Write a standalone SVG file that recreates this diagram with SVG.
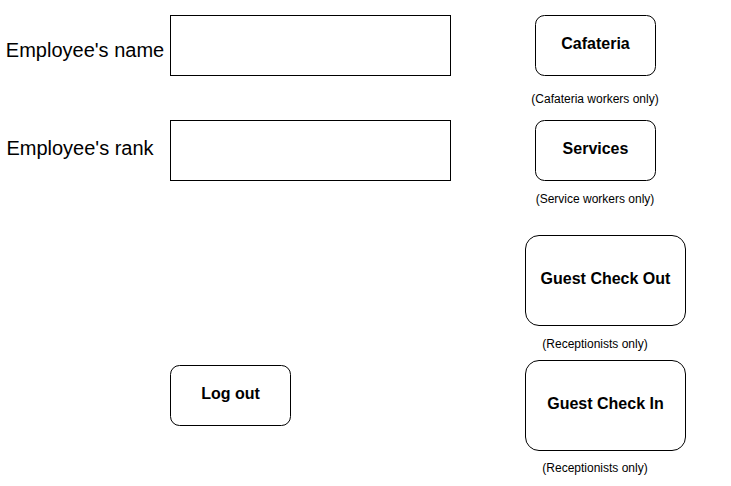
<svg xmlns="http://www.w3.org/2000/svg" width="731" height="486" viewBox="0 0 731 486">
<style>
.box{fill:#fff;stroke:#000;stroke-width:1}
.lbl{font-family:"Liberation Sans",Arial,sans-serif;font-size:20px;fill:#000}
.btn{font-family:"Liberation Sans",Arial,sans-serif;font-size:16px;font-weight:bold;fill:#000;text-anchor:middle}
.note{font-family:"Liberation Sans",Arial,sans-serif;font-size:12px;fill:#000;text-anchor:middle}
</style>
<rect width="731" height="486" fill="#fff"/>
<g id="name-label"><text class="lbl" x="85" y="57" text-anchor="middle">Employee's name</text></g>
<g id="name-field"><rect class="box" x="170.5" y="15.5" width="280" height="60"/></g>
<g id="rank-label"><text class="lbl" x="80" y="155" text-anchor="middle">Employee's rank</text></g>
<g id="rank-field"><rect class="box" x="170.5" y="120.5" width="280" height="60"/></g>
<g id="cafateria"><rect class="box" x="535.5" y="15.5" width="120" height="60" rx="9"/><text class="btn" x="595.5" y="49">Cafateria</text></g>
<g id="cafateria-note"><text class="note" x="595" y="103">(Cafateria workers only)</text></g>
<g id="services"><rect class="box" x="535.5" y="120.5" width="120" height="60" rx="9"/><text class="btn" x="595.5" y="154">Services</text></g>
<g id="services-note"><text class="note" x="595" y="203">(Service workers only)</text></g>
<g id="checkout"><rect class="box" x="525.5" y="235.5" width="160" height="90" rx="13.5"/><text class="btn" x="605.5" y="284">Guest Check Out</text></g>
<g id="checkout-note"><text class="note" x="595" y="348">(Receptionists only)</text></g>
<g id="checkin"><rect class="box" x="525.5" y="360.5" width="160" height="90" rx="13.5"/><text class="btn" x="605.5" y="409">Guest Check In</text></g>
<g id="checkin-note"><text class="note" x="595" y="472">(Receptionists only)</text></g>
<g id="logout"><rect class="box" x="170.5" y="365.5" width="120" height="60" rx="9"/><text class="btn" x="230.5" y="399">Log out</text></g>
<g id="connectors"></g>
</svg>
